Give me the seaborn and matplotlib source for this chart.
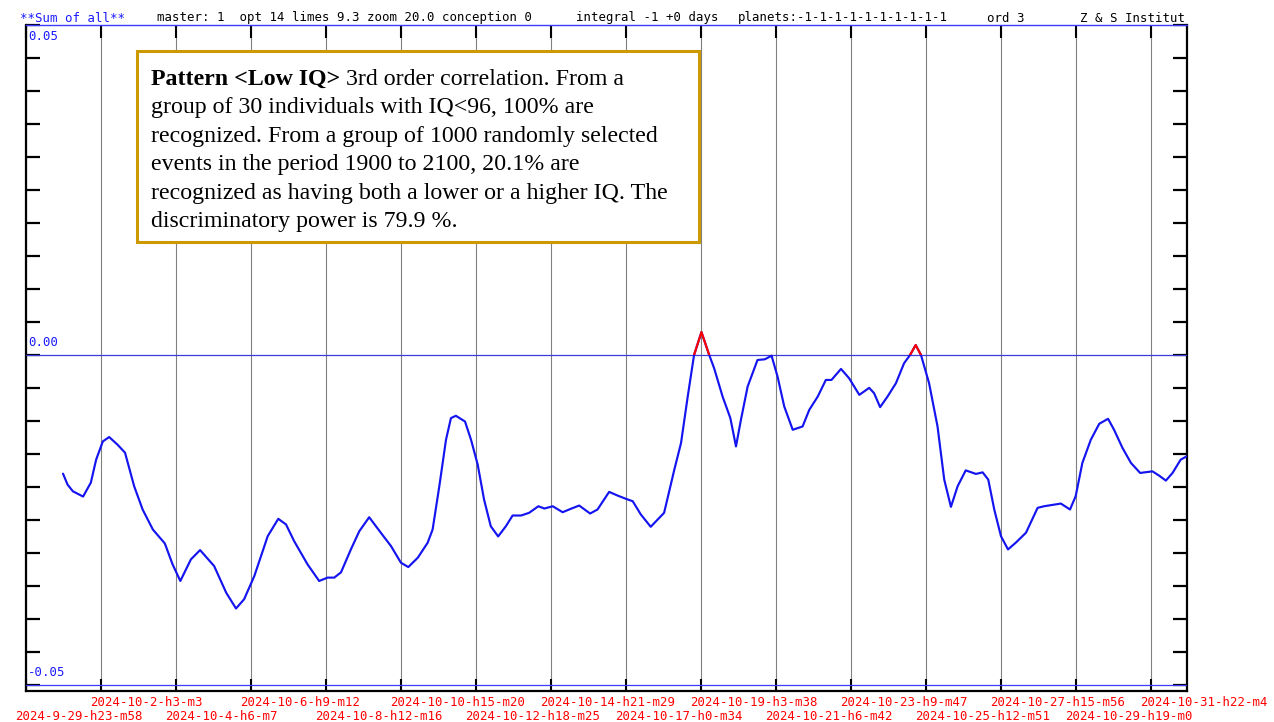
import datetime as dt
import numpy as np
import pandas as pd
import matplotlib
matplotlib.use('Agg')
import matplotlib.pyplot as plt
import matplotlib.transforms as mtransforms
from matplotlib.patches import Rectangle
import seaborn as sns

# x tick labels (timestamps of the vertical grid lines)
tick_labels = ['2024-9-29-h23-m58', '2024-10-2-h3-m3', '2024-10-4-h6-m7', '2024-10-6-h9-m12',
               '2024-10-8-h12-m16', '2024-10-10-h15-m20', '2024-10-12-h18-m25', '2024-10-14-h21-m29',
               '2024-10-17-h0-m34', '2024-10-19-h3-m38', '2024-10-21-h6-m42', '2024-10-23-h9-m47',
               '2024-10-25-h12-m51', '2024-10-27-h15-m56', '2024-10-29-h19-m0', '2024-10-31-h22-m4']

# curve: days since first tick, value
days = [1.05, 1.18, 1.33, 1.62, 1.84, 1.99, 2.18, 2.36, 2.60, 2.81,
        3.07, 3.31, 3.60, 3.94, 4.16, 4.38, 4.68, 4.94, 5.34, 5.68,
        5.96, 6.19, 6.48, 6.86, 7.16, 7.38, 7.61, 7.99, 8.32, 8.56,
        8.75, 8.94, 9.22, 9.46, 9.74, 10.07, 10.36, 10.64, 10.85, 11.12,
        11.40, 11.54, 11.73, 11.92, 12.06, 12.20, 12.46, 12.63, 12.82, 13.00,
        13.19, 13.40, 13.62, 13.81, 14.05, 14.28, 14.54, 14.71, 14.95, 15.23,
        15.46, 15.70, 16.01, 16.22, 16.55, 16.79, 17.03, 17.22, 17.45, 17.73,
        18.11, 18.40, 18.59, 18.78, 18.96, 19.17, 19.39, 19.53, 19.77, 19.99,
        20.15, 20.29, 20.48, 20.76, 20.97, 21.16, 21.33, 21.52, 21.76, 22.04,
        22.23, 22.47, 22.70, 22.86, 23.13, 23.36, 23.65, 23.93, 24.07, 24.24,
        24.45, 24.69, 24.92, 25.09, 25.25, 25.40, 25.63, 25.87, 26.06, 26.25,
        26.44, 26.67, 26.96, 27.15, 27.31, 27.48, 27.67, 27.87, 28.09, 28.38,
        28.71, 28.89, 29.37, 29.63, 29.79, 29.98, 30.22, 30.46, 30.71, 30.88,
        31.12, 31.36, 31.62, 31.97, 32.16, 32.35, 32.54, 32.77, 32.94]
values = [-0.01798, -0.01964, -0.02065, -0.02145, -0.01934, -0.01586, -0.01310, -0.01243, -0.01360, -0.01480,
          -0.01989, -0.02341, -0.02644, -0.02855, -0.03172, -0.03424, -0.03097, -0.02956, -0.03198, -0.03600,
          -0.03841, -0.03701, -0.03349, -0.02745, -0.02482, -0.02568, -0.02820, -0.03172, -0.03424, -0.03373,
          -0.03373, -0.03293, -0.02946, -0.02669, -0.02458, -0.02693, -0.02896, -0.03147, -0.03213, -0.03071,
          -0.02844, -0.02644, -0.01989, -0.01284, -0.00956, -0.00921, -0.01008, -0.01284, -0.01662, -0.02190,
          -0.02594, -0.02749, -0.02594, -0.02432, -0.02432, -0.02391, -0.02292, -0.02326, -0.02292, -0.02382,
          -0.02331, -0.02281, -0.02402, -0.02341, -0.02074, -0.02130, -0.02180, -0.02216, -0.02417, -0.02603,
          -0.02391, -0.01737, -0.01334, -0.00630, 0.00000, 0.00347, 0.00000, -0.00201, -0.00630, -0.00956,
          -0.01385, -0.00982, -0.00479, -0.00076, -0.00065, -0.00011, -0.00328, -0.00781, -0.01133, -0.01083,
          -0.00831, -0.00630, -0.00378, -0.00378, -0.00211, -0.00352, -0.00604, -0.00498, -0.00579, -0.00790,
          -0.00630, -0.00427, -0.00125, 0.00000, 0.00151, 0.00000, -0.00427, -0.01083, -0.01888, -0.02301,
          -0.01989, -0.01748, -0.01802, -0.01778, -0.01888, -0.02341, -0.02745, -0.02946, -0.02844, -0.02693,
          -0.02316, -0.02292, -0.02251, -0.02341, -0.02140, -0.01636, -0.01284, -0.01042, -0.00967, -0.01133,
          -0.01409, -0.01636, -0.01787, -0.01763, -0.01828, -0.01903, -0.01787, -0.01586, -0.01536]

y_marks = [0.05, 0.0, -0.05]
y_mark_labels = ['0.05', '0.00', '-0.05']

header = [('**Sum of all**', 20, '#1a1aff'),
          ('master: 1  opt 14 limes 9.3 zoom 20.0 conception 0', 157, 'black'),
          ('integral -1 +0 days', 576, 'black'),
          ('planets:-1-1-1-1-1-1-1-1-1-1', 738, 'black'),
          ('ord 3', 987, 'black'),
          ('Z & S Institut', 1080, 'black')]

box_title = 'Pattern <Low IQ>'
box_lines = [' 3rd order correlation. From a',
             'group of 30 individuals with IQ<96, 100% are',
             'recognized. From a group of 1000 randomly selected',
             'events in the period 1900 to 2100, 20.1% are',
             'recognized as having both a lower or a higher IQ. The',
             'discriminatory power is 79.9 %.']


def parse_stamp(s):
    y, mo, d, h, mi = s.split('-')
    return dt.datetime(int(y), int(mo), int(d), int(h[1:]), int(mi[1:]))


t0 = parse_stamp(tick_labels[0])
tick_days = [(parse_stamp(s) - t0).total_seconds() / 86400 for s in tick_labels]

df = pd.DataFrame({'day': days, 'value': values})

sns.set_theme(style='white')
plt.rcParams['font.family'] = ['DejaVu Sans Mono']
plt.rcParams['text.color'] = 'black'

W, H = 1274, 722
fig = plt.figure(figsize=(W / 100, H / 100), dpi=100)
ax = fig.add_axes([26 / W, 31 / H, 1161 / W, 666 / H])

sns.lineplot(data=df, x='day', y='value', ax=ax, color='#1414f0', lw=1.55, zorder=4)
sns.lineplot(data=df, x='day', y='value', ax=ax, color='#ff0000', lw=1.55, zorder=5)
ax.lines[-1].set_clip_path(Rectangle((-5, 0), 50, 1, transform=ax.transData))

ax.set_xlim(0, 32.95)
ax.set_ylim(-0.05091, 0.05)
ax.set_xlabel('')
ax.set_ylabel('')

ax.set_xticks(tick_days)
ax.set_xticklabels([])
ax.set_yticks(np.linspace(-0.05, 0.05, 21))
ax.set_yticklabels([])
ax.grid(axis='x', color='#808080', lw=0.8)
ax.grid(axis='y', visible=False)
ax.tick_params(axis='x', direction='in', length=9, width=1.5, color='black',
               top=True, bottom=True, labelbottom=False)
ax.tick_params(axis='y', direction='in', length=10, width=1.6, color='black',
               left=True, right=True, labelleft=False)

for side in ['left', 'right', 'bottom']:
    ax.spines[side].set_color('black')
    ax.spines[side].set_linewidth(1.6)
ax.spines['top'].set_color('#3c3cff')
ax.spines['top'].set_linewidth(1.0)

ax.axhline(0, color='#3c3cd8', lw=0.9, zorder=3)
ax.axhline(-0.05, color='#3c3cff', lw=0.9, zorder=3)

# value labels inside the axes
ytrans = mtransforms.blended_transform_factory(ax.transAxes, ax.transData)
for v, lab in zip(y_marks, y_mark_labels):
    dy = -12 if v > 0.04 else 12
    ax.text(0, v, lab, color='#1a1aff', fontsize=8.9, va='center', ha='left',
            transform=mtransforms.offset_copy(ytrans, fig, x=2, y=dy, units='dots'))

# date labels in two rows
xtrans = ax.get_xaxis_transform()
for i, (d, lab) in enumerate(zip(tick_days, tick_labels)):
    dy = -12 if i % 2 else -26
    ax.text(d, 0, lab, color='#ff0000', fontsize=8.9, va='center', ha='left', clip_on=False,
            transform=mtransforms.offset_copy(xtrans, fig, x=-11, y=dy, units='dots'))

for txt, xp, col in header:
    fig.text(xp / W, 1 - 18 / H, txt, color=col, fontsize=8.9, va='center', ha='left')

# annotation box
fig.add_artist(Rectangle((137 / W, 1 - 242 / H), 562 / W, 191 / H, transform=fig.transFigure,
                         facecolor='white', edgecolor='#cc9900', lw=2.2, zorder=2))

serif = ['Liberation Serif', 'DejaVu Serif']
fs = 17.2
base_x, base_y, step = 151, 85, 28.4
t1 = fig.text(base_x / W, 1 - base_y / H, box_title, family=serif, fontsize=fs,
              fontweight='bold', va='baseline', ha='left', zorder=3)
fig.canvas.draw()
bb = t1.get_window_extent()
fig.text(bb.x1 / W, 1 - base_y / H, box_lines[0], family=serif, fontsize=fs,
         va='baseline', ha='left', zorder=3)
for i, line in enumerate(box_lines[1:], start=1):
    fig.text(base_x / W, 1 - (base_y + step * i) / H, line, family=serif, fontsize=fs,
             va='baseline', ha='left', zorder=3)

fig.savefig('out.png', dpi=100)
